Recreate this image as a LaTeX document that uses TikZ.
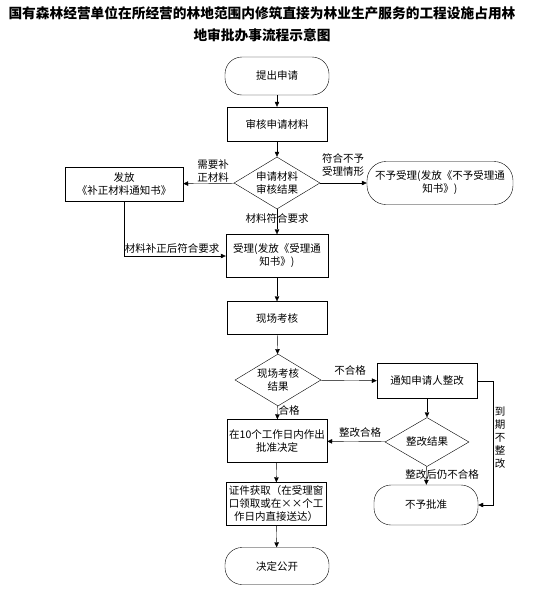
\documentclass[tikz,border=0pt]{standalone}
\usepackage{fontspec}
\newfontfamily\cjk{Noto Sans CJK SC}
\usetikzlibrary{arrows.meta, positioning, shapes.geometric}

\begin{document}
\begin{tikzpicture}[x=1pt, y=-1pt, font=\cjk\fontsize{10.5}{13}\selectfont,
    proc/.style={draw, rectangle, minimum width=100pt, minimum height=34pt, inner sep=2pt, align=center},
    term/.style={draw, rounded corners=17pt, minimum width=104pt, minimum height=38pt, align=center},
    dec/.style={draw, diamond, aspect=1.6, inner sep=0pt, minimum width=86pt, minimum height=52pt, align=center},
    flow/.style={-{Triangle[length=5pt, width=4.5pt]}},
    lbl/.style={align=center, inner sep=1pt}]
    \useasboundingbox (0,0) rectangle (549,600);

    % Title
    \node[font=\cjk\bfseries\fontsize{13.7}{16}\selectfont] (title1) at (262,13) {国有森林经营单位在所经营的林地范围内修筑直接为林业生产服务的工程设施占用林};
    \node[font=\cjk\bfseries\fontsize{13.7}{16}\selectfont] (title2) at (262,35) {地审批办事流程示意图};

    % Main column
    \node[term] (apply) at (277,76) {提出申请};
    \node[proc] (check) at (277,124) {审核申请材料};
    \node[dec] (result) at (277,183) {申请材料\\审核结果};
    \node[proc, minimum width=118pt] (supp) at (124,184) {发放\\《补正材料通知书》};
    \node[term, minimum width=146pt, minimum height=43pt, rounded corners=19pt] (reject) at (440,183) {不予受理(发放《不予受理通\\知书》)};
    \node[proc, minimum width=102pt, minimum height=43pt] (accept) at (277,256) {受理(发放《受理通\\知书》)};
    \node[proc, minimum height=33pt] (site) at (277,318) {现场考核};
    \node[dec] (siteres) at (278,380) {现场考核\\结果};
    \node[proc, minimum height=35pt] (notify) at (427,381) {通知申请人整改};
    \node[proc, minimum height=43pt] (approve) at (277,441) {在10个工作日内作出\\批准决定};
    \node[dec, minimum width=84pt, minimum height=49pt] (fixres) at (427,442) {整改结果};
    \node[term, minimum height=40pt] (deny) at (426,505) {不予批准};
    \node[proc, minimum height=43pt, inner sep=1pt] (cert) at (276,504) {证件获取（在受理窗\\口领取或在××个工\\作日内直接送达）};
    \node[term, minimum height=37pt] (publish) at (277,566) {决定公开};

    % Turning points
    \coordinate (suppturn) at (supp.south |- accept.west);
    \coordinate (lateA) at (493,381);
    \coordinate (lateB) at (493,505);

    % Connectors
    \draw[flow] (apply) -- (check);
    \draw[flow] (check) -- (result);
    \draw[flow] (result) -- (supp);
    \draw[flow] (result) -- (reject);
    \draw[flow] (result) -- (accept);
    \draw[flow] (supp.south) -- (suppturn) -- (accept.west);
    \draw[flow] (accept) -- (site);
    \draw[flow] (site) -- (siteres);
    \draw[flow] (siteres) -- (notify);
    \draw[flow] (siteres) -- (approve);
    \draw[flow] (notify) -- (fixres);
    \draw[flow] (fixres) -- (approve);
    \draw[flow] (fixres) -- (deny);
    \draw[flow] (notify.east) -- (lateA) -- (lateB) -- (deny.east);
    \draw[flow] (approve) -- (cert);
    \draw[flow] (cert) -- (publish);

    % Labels
    \node[lbl] (needfix) at (213,171) {需要补\\正材料};
    \node[lbl] (noaccept) at (343,165) {符合不予\\受理情形};
    \node[lbl] (meets) at (277,219) {材料符合要求};
    \node[lbl] (fixed) at (172,249) {材料补正后符合要求};
    \node[lbl] (fail) at (350,370) {不合格};
    \node[lbl] (pass) at (289,410) {合格};
    \node[lbl] (fixok) at (360,433) {整改合格};
    \node[lbl] (stillfail) at (442,475) {整改后仍不合格};
    \node[lbl, font=\cjk\fontsize{10.5}{13}\selectfont] (overdue) at (500,438) {到\\期\\不\\整\\改};
\end{tikzpicture}
\end{document}
